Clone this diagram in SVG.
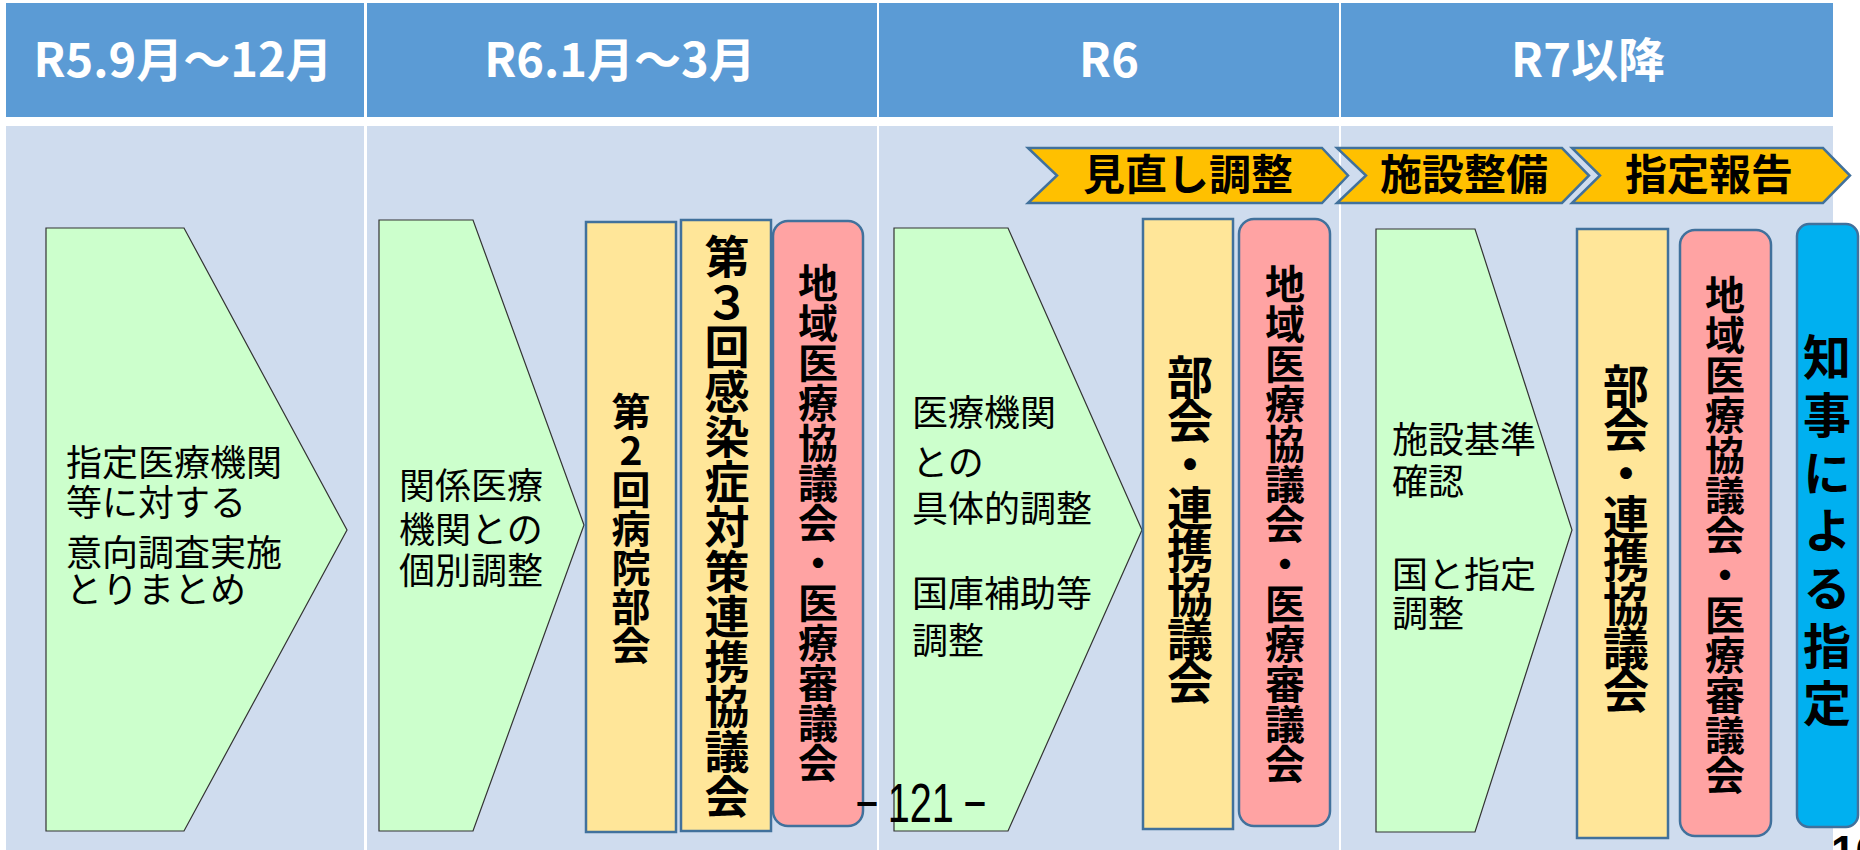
<svg xmlns="http://www.w3.org/2000/svg" width="1860" height="850" viewBox="0 0 1860 850">
<style>
.hdr{fill:#5B9BD5}
.body{fill:#CFDCEE}
.htxt{font-family:"Noto Sans CJK JP","Noto Sans",sans-serif;font-weight:bold;font-size:47px;fill:#fff;text-anchor:middle}
.green{fill:#CCFFCC;stroke:#333;stroke-width:1.2}
.orange{fill:#FFC000;stroke:#41719C;stroke-width:2.5}
.yellow{fill:#FFE699;stroke:#41719C;stroke-width:2.5}
.pink{fill:#FFA3A3;stroke:#41719C;stroke-width:2.5}
.blue{fill:#00B0F0;stroke:#41719C;stroke-width:2.5}
.gt{font-family:"Noto Sans CJK JP","Noto Sans",sans-serif;font-size:36px;fill:#000}
.ot{font-family:"Noto Sans CJK JP","Noto Sans",sans-serif;font-weight:bold;font-size:42px;fill:#000;text-anchor:middle}
.vt{font-family:"Noto Sans CJK JP","Noto Sans",sans-serif;font-weight:bold;fill:#000;text-anchor:middle;writing-mode:vertical-rl;text-orientation:upright}
</style>
<rect width="1860" height="850" fill="#fff"/>
<g id="header">
<rect class="hdr" x="6" y="3" width="358" height="114"/>
<rect class="hdr" x="367" y="3" width="510" height="114"/>
<rect class="hdr" x="879" y="3" width="460" height="114"/>
<rect class="hdr" x="1341" y="3" width="492" height="114"/>
<text class="htxt" x="183" y="77">R5.9月～12月</text>
<text class="htxt" x="620" y="77">R6.1月～3月</text>
<text class="htxt" x="1109" y="77">R6</text>
<text class="htxt" x="1588" y="77">R7以降</text>
</g>
<g id="columns">
<rect class="body" x="6" y="126" width="358" height="724"/>
<rect class="body" x="367" y="126" width="510" height="724"/>
<rect class="body" x="879" y="126" width="460" height="724"/>
<rect class="body" x="1341" y="126" width="492" height="724"/>
</g>
<g id="phase-review">
<path class="orange" d="M1028,148 L1322,148 L1348,175.5 L1322,203 L1028,203 L1057,175.5 Z"/>
<text class="ot" x="1188" y="190">見直し調整</text>
</g>
<g id="phase-facility">
<path class="orange" d="M1337,148 L1562,148 L1589,175.5 L1562,203 L1337,203 L1366,175.5 Z"/>
<text class="ot" x="1464" y="190">施設整備</text>
</g>
<g id="phase-report">
<path class="orange" d="M1572,148 L1823,148 L1850,175.5 L1823,203 L1572,203 L1600,175.5 Z"/>
<text class="ot" x="1709" y="190">指定報告</text>
</g>
<g id="step-survey">
<path class="green" d="M46,228 L184,228 L347,530 L184,831 L46,831 Z"/>
<text class="gt"><tspan x="66" y="476">指定医療機関</tspan><tspan x="66" y="516">等に対する</tspan><tspan x="66" y="566">意向調査実施</tspan><tspan x="66" y="603">とりまとめ</tspan></text>
</g>
<g id="step-individual">
<path class="green" d="M379,220 L473,220 L584,525 L473,831 L379,831 Z"/>
<text class="gt"><tspan x="399" y="499">関係医療</tspan><tspan x="399" y="543">機関との</tspan><tspan x="399" y="584">個別調整</tspan></text>
</g>
<g id="hospital-subcommittee-2">
<rect class="yellow" x="586" y="222" width="90" height="610"/>
<text class="vt" x="631" y="528" font-size="39" letter-spacing="0">第2回病院部会</text>
</g>
<g id="council-3">
<rect class="yellow" x="681" y="220" width="90" height="611"/>
<text class="vt" x="727" y="527" font-size="45">第３回感染症対策連携協議会</text>
</g>
<g id="regional-council-1">
<rect class="pink" x="773" y="221" width="90" height="605" rx="15"/>
<text class="vt" x="818" y="523" font-size="40">地域医療協議会・医療審議会</text>
</g>
<g id="step-concrete">
<path class="green" d="M894,228 L1008,228 L1142,530 L1008,831 L894,831 Z"/>
<text class="gt"><tspan x="912" y="426">医療機関</tspan><tspan x="912" y="476">との</tspan><tspan x="912" y="522">具体的調整</tspan><tspan x="912" y="607">国庫補助等</tspan><tspan x="912" y="654">調整</tspan></text>
</g>
<g id="subcommittee-r6">
<rect class="yellow" x="1143" y="219" width="90" height="610"/>
<text class="vt" x="1190" y="528" font-size="46" letter-spacing="-2.4">部会・連携協議会</text>
</g>
<g id="regional-council-r6">
<rect class="pink" x="1239" y="219" width="91" height="607" rx="15"/>
<text class="vt" x="1285" y="524" font-size="40">地域医療協議会・医療審議会</text>
</g>
<g id="step-standards">
<path class="green" d="M1376,229 L1475,229 L1572,530 L1475,832 L1376,832 Z"/>
<text class="gt"><tspan x="1392" y="453">施設基準</tspan><tspan x="1392" y="495">確認</tspan><tspan x="1392" y="588">国と指定</tspan><tspan x="1392" y="627">調整</tspan></text>
</g>
<g id="subcommittee-r7">
<rect class="yellow" x="1577" y="229" width="91" height="609"/>
<text class="vt" x="1626" y="537" font-size="46" letter-spacing="-2.4">部会・連携協議会</text>
</g>
<g id="regional-council-r7">
<rect class="pink" x="1680" y="230" width="91" height="606" rx="15"/>
<text class="vt" x="1725" y="535" font-size="40">地域医療協議会・医療審議会</text>
</g>
<g id="governor-designation">
<rect class="blue" x="1797" y="224" width="61" height="603" rx="12"/>
<text class="vt" x="1827" y="535" font-size="48" letter-spacing="9.7">知事による指定</text>
</g>
<g id="connectors"></g>
<g id="page-numbers">
<text font-family="Liberation Sans, Arial, sans-serif" font-size="55" fill="#000" transform="translate(0,822) scale(0.72,1)"><tspan x="1188" y="0">−</tspan><tspan x="1233" y="0">121</tspan><tspan x="1338" y="0">−</tspan></text>
<text font-family="Liberation Sans, Arial, sans-serif" font-size="44" font-weight="bold" fill="#000" x="1831" y="867">10</text>
</g>
</svg>
